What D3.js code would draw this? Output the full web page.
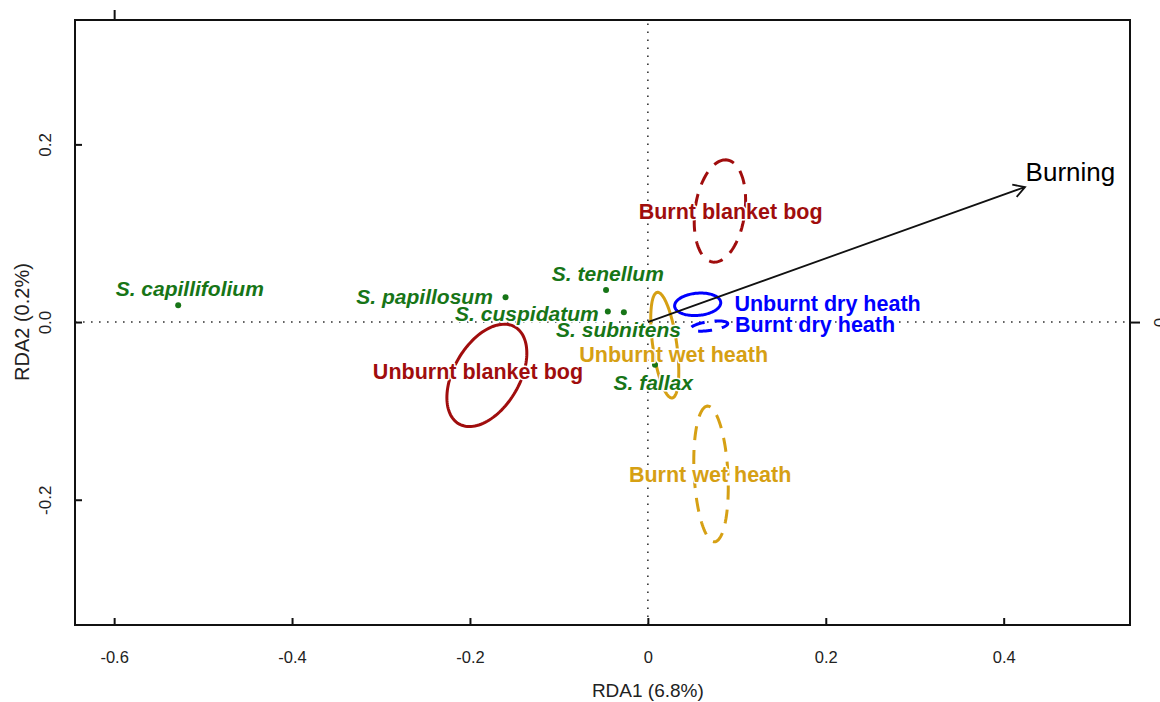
<!DOCTYPE html>
<html>
<head>
<meta charset="utf-8">
<script src="https://cdn.jsdelivr.net/npm/d3@7"></script>
<style>
body { margin: 0; background: #fff; }
text { font-family: 'Liberation Sans', Arial, sans-serif; }
</style>
</head>
<body>
<svg width="1160" height="702"></svg>
<script>
// species scores
const species = ['S. capillifolium', 'S. papillosum', 'S. tenellum', 'S. cuspidatum', 'S. subnitens', 'S. fallax']
const speciesX = [-0.528, -0.160, -0.047, -0.045, -0.027, 0.008]
const speciesY = [0.019, 0.028, 0.036, 0.012, 0.011, -0.048]
const speciesLabelX = [-0.515, -0.251, -0.045, -0.136, -0.033, 0.006]
const speciesLabelY = [0.038, 0.029, 0.055, 0.010, -0.008, -0.068]

// group ellipses (centre, semi axes, angle in degrees)
const groups = ['Unburnt blanket bog', 'Burnt blanket bog', 'Unburnt dry heath', 'Burnt dry heath', 'Unburnt wet heath', 'Burnt wet heath']
const groupCX = [-0.181, 0.081, 0.056, 0.069, 0.019, 0.071]
const groupCY = [-0.060, 0.125, 0.020, -0.0045, -0.026, -0.171]
const groupA = [0.063, 0.058, 0.026, 0.021, 0.060, 0.0765]
const groupB = [0.037, 0.028, 0.0125, 0.005, 0.0135, 0.019]
const groupAngle = [60, 82, 5, 8, 98, 93]
const groupLabelX = [-0.191, 0.093, 0.202, 0.188, 0.029, 0.070]
const groupLabelY = [-0.056, 0.125, 0.021, -0.003, -0.036, -0.172]

// environmental vector
const envName = ['Burning']
const envX = [0.424]
const envY = [0.152]
const envLabelX = [0.475]
const envLabelY = [0.169]

// axes
const xTicks = [-0.6, -0.4, -0.2, 0, 0.2, 0.4]
const xTickLabels = ['-0.6', '-0.4', '-0.2', '0', '0.2', '0.4']
const yTicks = [-0.2, 0, 0.2]
const yTickLabels = ['-0.2', '0.0', '0.2']
const xDomain = [-0.644, 0.542]
const yDomain = [-0.341, 0.340]

const svg = d3.select('svg')
const margin = { left: 75, right: 30, top: 20, bottom: 77 }
const w = +svg.attr('width'), h = +svg.attr('height')

const x = d3.scaleLinear().domain(xDomain).range([margin.left, w - margin.right])
const y = d3.scaleLinear().domain(yDomain).range([h - margin.bottom, margin.top])

const habitatColor = name => name.includes('bog') ? '#a00d0d'
    : name.includes('dry') ? '#0000ff' : '#d6a014'

// zero lines
svg.append('line')
    .attr('x1', x.range()[0]).attr('x2', x.range()[1])
    .attr('y1', y(0)).attr('y2', y(0))
    .attr('stroke', '#333').attr('stroke-width', 1.6)
    .attr('stroke-dasharray', '1.6,6.4')
svg.append('line')
    .attr('x1', x(0)).attr('x2', x(0))
    .attr('y1', y.range()[0]).attr('y2', y.range()[1])
    .attr('stroke', '#333').attr('stroke-width', 1.6)
    .attr('stroke-dasharray', '1.6,6.4')

// ellipses
const ellipsePoints = i => {
    const th = groupAngle[i] * Math.PI / 180
    return d3.range(0, 2 * Math.PI, Math.PI / 60).map(t => [
        x(groupCX[i] + groupA[i] * Math.cos(th) * Math.cos(t) - groupB[i] * Math.sin(th) * Math.sin(t)),
        y(groupCY[i] + groupA[i] * Math.sin(th) * Math.cos(t) + groupB[i] * Math.cos(th) * Math.sin(t))
    ])
}
const ellipseLine = d3.line().curve(d3.curveLinearClosed)

svg.append('g').selectAll('path')
    .data(groups)
    .join('path')
        .attr('d', (d, i) => ellipseLine(ellipsePoints(i)))
        .attr('fill', 'none')
        .attr('stroke', d => habitatColor(d))
        .attr('stroke-width', 3)
        .attr('stroke-dasharray', d => d.startsWith('Burnt') ? '14,10' : null)

// arrow
const ax0 = x(0), ay0 = y(0), ax1 = x(envX[0]), ay1 = y(envY[0])
const ang = Math.atan2(ay1 - ay0, ax1 - ax0)
const headLen = 13, headAng = Math.PI / 6
svg.append('path')
    .attr('d', `M${ax0},${ay0}L${ax1},${ay1}` +
        `M${ax1 - headLen * Math.cos(ang - headAng)},${ay1 - headLen * Math.sin(ang - headAng)}` +
        `L${ax1},${ay1}` +
        `L${ax1 - headLen * Math.cos(ang + headAng)},${ay1 - headLen * Math.sin(ang + headAng)}`)
    .attr('fill', 'none')
    .attr('stroke', '#111')
    .attr('stroke-width', 1.8)

svg.append('text')
    .attr('x', x(envLabelX[0]))
    .attr('y', y(envLabelY[0]))
    .attr('dy', '0.35em')
    .attr('text-anchor', 'middle')
    .attr('font-size', 26)
    .attr('fill', '#000')
    .text(envName[0])

// species points
svg.append('g').selectAll('circle')
    .data(species)
    .join('circle')
        .attr('cx', (d, i) => x(speciesX[i]))
        .attr('cy', (d, i) => y(speciesY[i]))
        .attr('r', 3)
        .attr('fill', '#177517')

const halo = sel => sel
    .attr('stroke', '#fff')
    .attr('stroke-width', 3)
    .attr('stroke-linejoin', 'round')
    .attr('paint-order', 'stroke')

svg.append('g').selectAll('text')
    .data(species)
    .join('text')
        .attr('x', (d, i) => x(speciesLabelX[i]))
        .attr('y', (d, i) => y(speciesLabelY[i]))
        .attr('dy', '0.35em')
        .attr('text-anchor', 'middle')
        .attr('font-size', 21)
        .attr('font-weight', 'bold')
        .attr('font-style', 'italic')
        .attr('fill', '#177517')
        .call(halo)
        .text(d => d)

svg.append('g').selectAll('text')
    .data(groups)
    .join('text')
        .attr('x', (d, i) => x(groupLabelX[i]))
        .attr('y', (d, i) => y(groupLabelY[i]))
        .attr('dy', '0.35em')
        .attr('text-anchor', 'middle')
        .attr('font-size', 21.5)
        .attr('font-weight', 'bold')
        .attr('fill', d => habitatColor(d))
        .call(halo)
        .text(d => d)

// axes
const axisFont = "'Liberation Sans', Arial, sans-serif"

const bottomAxis = svg.append('g')
    .attr('transform', `translate(0, ${y.range()[0]})`)
    .call(d3.axisBottom(x).tickValues(xTicks)
        .tickFormat((d, i) => xTickLabels[i])
        .tickSize(-7).tickSizeOuter(0).tickPadding(26))
bottomAxis.select('.domain').remove()
bottomAxis.selectAll('line').attr('stroke', '#111').attr('stroke-width', 2)
bottomAxis.selectAll('text').attr('font-size', 16.5).attr('fill', '#222')
    .attr('font-family', axisFont)

const leftAxis = svg.append('g')
    .attr('transform', `translate(${x.range()[0]}, 0)`)
    .call(d3.axisLeft(y).tickValues(yTicks)
        .tickFormat((d, i) => yTickLabels[i])
        .tickSize(-7).tickSizeOuter(0))
leftAxis.select('.domain').remove()
leftAxis.selectAll('line').attr('stroke', '#111').attr('stroke-width', 2)
leftAxis.selectAll('text')
    .attr('x', null).attr('y', 0).attr('dy', '0.35em')
    .attr('text-anchor', 'middle')
    .attr('transform', 'translate(-30, 0) rotate(-90)')
    .attr('font-size', 17).attr('fill', '#222')
    .attr('font-family', axisFont)

const topAxis = svg.append('g')
    .attr('transform', `translate(0, ${y.range()[1]})`)
    .call(d3.axisTop(x).tickValues([-0.6]).tickFormat('')
        .tickSize(10).tickSizeOuter(0))
topAxis.select('.domain').remove()
topAxis.selectAll('line').attr('stroke', '#111').attr('stroke-width', 2)

const rightAxis = svg.append('g')
    .attr('transform', `translate(${x.range()[1]}, 0)`)
    .call(d3.axisRight(y).tickValues([0]).tickFormat(() => '0')
        .tickSize(10).tickSizeOuter(0))
rightAxis.select('.domain').remove()
rightAxis.selectAll('line').attr('stroke', '#111').attr('stroke-width', 2)
rightAxis.selectAll('text')
    .attr('x', null).attr('y', 0).attr('dy', '0.35em')
    .attr('text-anchor', 'middle')
    .attr('transform', 'translate(30, 0) rotate(-90)')
    .attr('font-size', 17).attr('fill', '#222')
    .attr('font-family', axisFont)

// box
svg.append('rect')
    .attr('x', x.range()[0]).attr('y', y.range()[1])
    .attr('width', x.range()[1] - x.range()[0])
    .attr('height', y.range()[0] - y.range()[1])
    .attr('fill', 'none')
    .attr('stroke', '#111')
    .attr('stroke-width', 2)

// axis titles
svg.append('text')
    .attr('x', x(0))
    .attr('y', 690)
    .attr('dy', '0.35em')
    .attr('text-anchor', 'middle')
    .attr('font-size', 19)
    .attr('fill', '#222')
    .text('RDA1 (6.8%)')

svg.append('text')
    .attr('transform', `translate(22, ${y(0)}) rotate(-90)`)
    .attr('dy', '0.35em')
    .attr('text-anchor', 'middle')
    .attr('font-size', 20)
    .attr('fill', '#222')
    .text('RDA2 (0.2%)')
</script>
</body>
</html>
